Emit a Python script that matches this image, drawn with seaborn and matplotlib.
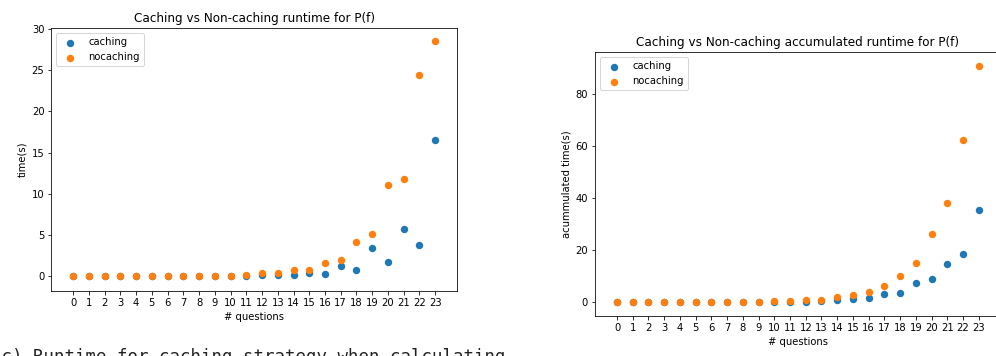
import numpy as np
import pandas as pd
import matplotlib
matplotlib.use("Agg")
import matplotlib.pyplot as plt
import seaborn as sns

# values
questions = list(range(24))
tick_labels = [str(q) for q in questions]

runtime_caching = [0.0, 0.0, 0.0, 0.0, 0.0, 0.0, 0.0, 0.0, 0.0, 0.0, 0.0,
                   0.02, 0.1, 0.1, 0.1, 0.33, 0.24, 1.25, 0.73, 3.36, 1.74,
                   5.71, 3.8, 16.48]
runtime_nocaching = [0.0, 0.0, 0.0, 0.0, 0.0, 0.0, 0.0, 0.0, 0.0, 0.0, 0.02,
                     0.1, 0.3, 0.3, 0.7, 0.73, 1.58, 1.9, 4.09, 5.14, 11.0,
                     11.74, 24.4, 28.5]

accum_caching = [0.0, 0.0, 0.0, 0.0, 0.0, 0.0, 0.0, 0.0, 0.0, 0.0, 0.05,
                 0.3, 0.3, 0.4, 0.9, 1.4, 1.8, 3.2, 3.6, 7.3, 9.2,
                 14.9, 18.7, 35.4]
accum_nocaching = [0.0, 0.0, 0.0, 0.0, 0.0, 0.0, 0.0, 0.0, 0.0, 0.0, 0.5,
                   0.64, 0.95, 1.1, 1.9, 2.7, 4.2, 6.4, 10.1, 15.3, 26.5,
                   38.2, 62.4, 90.9]

blue = "#1f77b4"
orange = "#ff7f0e"

df = pd.DataFrame({
    "questions": questions,
    "caching": runtime_caching,
    "nocaching": runtime_nocaching,
    "acc_caching": accum_caching,
    "acc_nocaching": accum_nocaching,
})

fig = plt.figure(figsize=(996 / 72, 356 / 72), dpi=72)
ax1 = fig.add_axes([0.0517, 0.1834, 0.4074, 0.737])
ax2 = fig.add_axes([0.5974, 0.1132, 0.4074, 0.740])

# left: runtime per question
sns.scatterplot(data=df, x="questions", y="caching", ax=ax1, color=blue,
                s=55, linewidth=0, label="caching")
sns.scatterplot(data=df, x="questions", y="nocaching", ax=ax1, color=orange,
                s=55, linewidth=0, label="nocaching")
ax1.set_title("Caching vs Non-caching runtime for P(f)", fontsize=12)
ax1.set_xlabel("# questions")
ax1.set_ylabel("time(s)")
ax1.set_xticks(questions)
ax1.set_xticklabels(tick_labels)
ax1.set_xlim(-1.37, 24.4)
ax1.set_ylim(-1.8, 30.1)
ax1.legend(loc="upper left")

# right: accumulated runtime
sns.scatterplot(data=df, x="questions", y="acc_caching", ax=ax2, color=blue,
                s=55, linewidth=0, label="caching")
sns.scatterplot(data=df, x="questions", y="acc_nocaching", ax=ax2, color=orange,
                s=55, linewidth=0, label="nocaching")
ax2.set_title("Caching vs Non-caching accumulated runtime for P(f)", fontsize=12)
ax2.set_xlabel("# questions")
ax2.set_ylabel("acummulated time(s)")
ax2.set_xticks(questions)
ax2.set_xticklabels(tick_labels)
ax2.set_xlim(-1.4, 24.4)
ax2.set_ylim(-5.1, 96.2)
ax2.set_yticks([0, 20, 40, 60, 80])
ax2.legend(loc="upper left")

# caption of the document, cut by the bottom edge
fig.text(-9 / 996, (356 - 361.6) / 356,
         "(c) Runtime for caching strategy when calculating",
         family="DejaVu Sans Mono", fontsize=17.4, va="baseline",
         color="#222222")

fig.savefig("out.png", dpi=72)
